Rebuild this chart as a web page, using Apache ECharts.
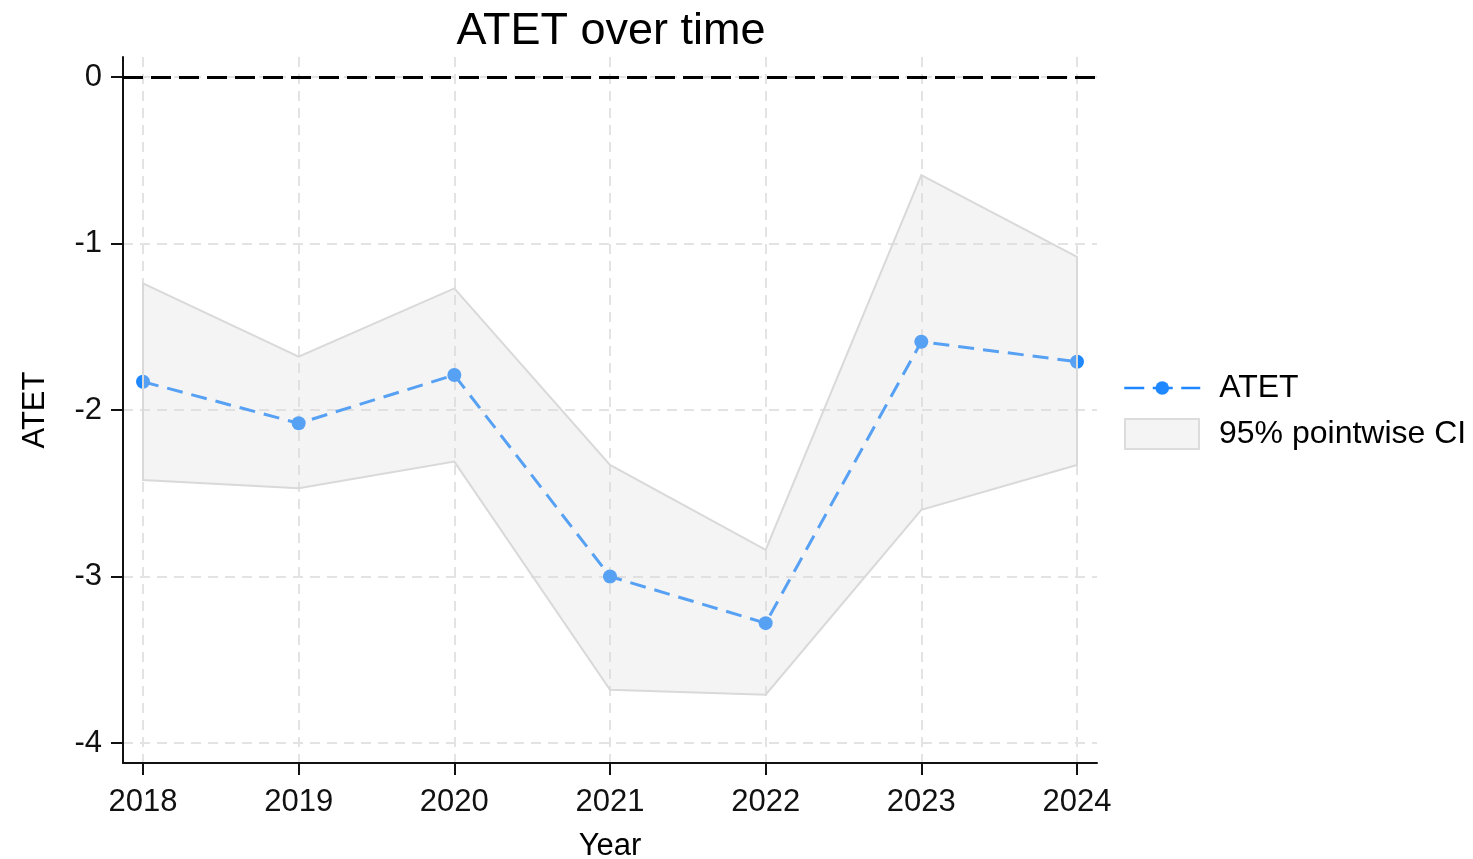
<!DOCTYPE html>
<html>
<head>
<meta charset="utf-8">
<title>ATET over time</title>
<script src="https://cdn.jsdelivr.net/npm/echarts@6/dist/echarts.min.js"></script>
<style>
  html, body { margin: 0; padding: 0; background: #ffffff; }
  #chart { width: 1473px; height: 859px; }
</style>
</head>
<body>
<div id="chart"></div>
<script>
// Event-study estimates by year
const years = [2018, 2019, 2020, 2021, 2022, 2023, 2024];
const atet = [-1.83, -2.08, -1.79, -3.00, -3.28, -1.59, -1.71];
const ciLower = [-2.42, -2.47, -2.31, -3.68, -3.71, -2.60, -2.33];
const ciUpper = [-1.24, -1.68, -1.27, -2.33, -2.84, -0.59, -1.08];
const yTicks = [-4, -3, -2, -1, 0];

const FONT = '"Liberation Sans", Arial, Helvetica, sans-serif';
const BLUE = '#1f88ff';
const xPad = 0.1285;   // axis runs a little past the first/last year
const yPad = 0.12;

const chart = echarts.init(document.getElementById('chart'), null, { renderer: 'canvas' });

const gridLine = { show: true, lineStyle: { color: '#e3e3e3', width: 2, type: [10, 7] } };

chart.setOption({
  animation: false,
  backgroundColor: '#ffffff',
  textStyle: { fontFamily: FONT },
  title: {
    text: 'ATET over time',
    left: 606,
    textAlign: 'center',
    top: 4,
    textStyle: { fontFamily: FONT, fontSize: 45, fontWeight: 'normal', color: '#000', lineHeight: 45 }
  },
  grid: { left: 123, right: 376, top: 57, bottom: 96, outerBoundsMode: 'none', containLabel: false },
  legend: [
    {
      data: ['ATET'],
      left: 1123, top: 372, padding: 0, orient: 'vertical',
      itemWidth: 76, itemHeight: 17,
      lineStyle: { type: [20, 8.5], width: 2.5, color: BLUE },
      textStyle: { fontFamily: FONT, fontSize: 32, color: '#000', lineHeight: 32, padding: [0, 0, 0, 14] }
    },
    {
      data: [{
        name: '95% pointwise CI', icon: 'rect',
        itemStyle: { color: '#f4f4f4', borderColor: '#dcdcdc', borderWidth: 2 }
      }],
      left: 1124, top: 418, padding: 0, orient: 'vertical',
      itemWidth: 74, itemHeight: 30,
      textStyle: { fontFamily: FONT, fontSize: 32, color: '#000', lineHeight: 32, padding: [0, 0, 0, 15] }
    }
  ],
  xAxis: {
    type: 'value',
    min: years[0] - xPad,
    max: years[years.length - 1] + xPad,
    name: 'Year',
    nameLocation: 'middle',
    nameGap: 67,
    nameTextStyle: { fontFamily: FONT, fontSize: 31, color: '#000', lineHeight: 32 },
    axisLine: { show: true, onZero: false, lineStyle: { color: '#111', width: 2 } },
    axisTick: { show: true, length: 12, customValues: years, lineStyle: { color: '#111', width: 2 } },
    axisLabel: {
      customValues: years, margin: 23,
      fontFamily: FONT, fontSize: 31, color: '#111', lineHeight: 32,
      formatter: v => String(v)
    },
    splitLine: gridLine
  },
  yAxis: {
    type: 'value',
    min: yTicks[0] - yPad,
    max: yTicks[yTicks.length - 1] + yPad,
    name: 'ATET',
    nameLocation: 'middle',
    nameGap: 72,
    nameTextStyle: { fontFamily: FONT, fontSize: 31, color: '#000', lineHeight: 32 },
    axisLine: { show: true, onZero: false, lineStyle: { color: '#111', width: 2 } },
    axisTick: { show: true, length: 12, customValues: yTicks, lineStyle: { color: '#111', width: 2 } },
    axisLabel: {
      customValues: yTicks, margin: 21,
      fontFamily: FONT, fontSize: 31, color: '#111',
      formatter: v => String(v)
    },
    splitLine: gridLine
  },
  series: [
    {
      name: 'ATET',
      type: 'line',
      z: 2,
      data: years.map((y, i) => [y, atet[i]]),
      symbol: 'circle',
      symbolSize: 14,
      showAllSymbol: true,
      itemStyle: { color: BLUE },
      lineStyle: { color: BLUE, width: 3, type: [16, 9] },
      markLine: {
        silent: true,
        symbol: ['none', 'none'],
        label: { show: false },
        lineStyle: { color: '#000', width: 3, type: [20, 8] },
        data: [{ yAxis: 0 }]
      }
    },
    {
      // confidence band drawn as one polygon over the estimate line
      name: '95% pointwise CI',
      type: 'custom',
      z: 3,
      data: years.map((y, i) => [y, ciLower[i], ciUpper[i]]),
      encode: { x: 0, y: [1, 2] },
      itemStyle: { color: 'rgba(220,220,220,0.3)', borderColor: '#d9d9d9', borderWidth: 2 },
      renderItem: function (params, api) {
        if (params.dataIndex !== 0) return null;
        const pts = [];
        for (let i = 0; i < years.length; i++) pts.push(api.coord([years[i], ciUpper[i]]));
        for (let i = years.length - 1; i >= 0; i--) pts.push(api.coord([years[i], ciLower[i]]));
        return {
          type: 'polygon',
          shape: { points: pts },
          style: { fill: 'rgba(220,220,220,0.3)', stroke: '#d9d9d9', lineWidth: 2 }
        };
      }
    }
  ]
});
</script>
</body>
</html>
